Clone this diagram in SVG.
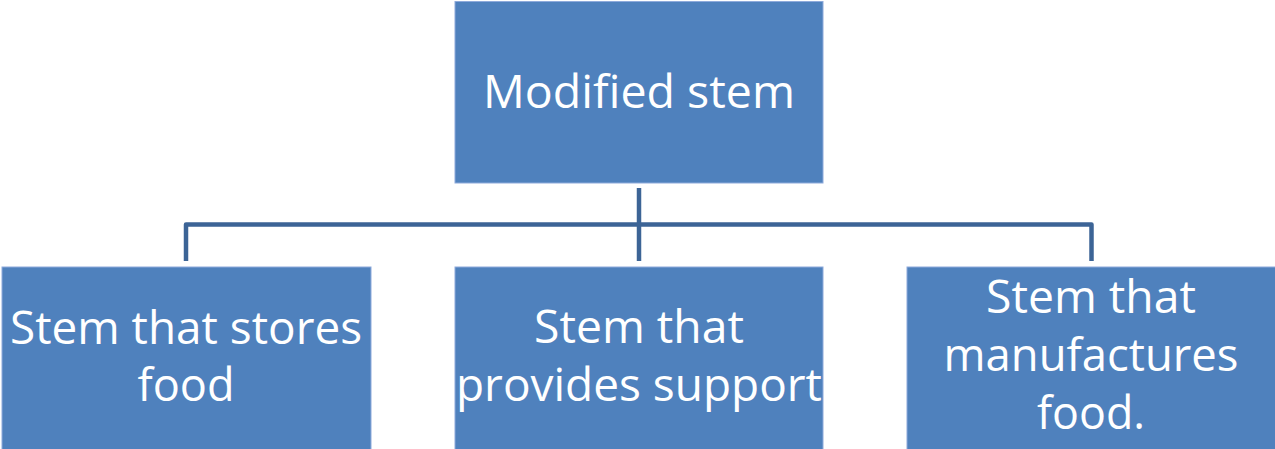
<svg xmlns="http://www.w3.org/2000/svg" width="1275" height="449" viewBox="0 0 1275 449">
<style>
.box{fill:#4F81BD;stroke:#8EAADB;stroke-width:1}
.t{font-family:"Open Sans","Liberation Sans",sans-serif;font-size:46px;fill:#FFFFFF;text-anchor:middle}
.c{fill:none;stroke:#3C6496;stroke-width:4.5;stroke-linejoin:round}
</style>
<rect width="1275" height="449" fill="#FFFFFF"/>
<g id="connectors">
<path class="c" d="M639 188 V261"/>
<path class="c" d="M186 261 V224.5 H1091.5 V261"/>
</g>
<g id="root">
<rect class="box" x="455" y="1.5" width="368" height="181.5"/>
<text class="t" x="639" y="108" textLength="312" lengthAdjust="spacingAndGlyphs">Modified stem</text>
</g>
<g id="n1">
<rect class="box" x="2" y="267" width="369" height="183"/>
<text class="t" x="186" y="344" textLength="352" lengthAdjust="spacingAndGlyphs">Stem that stores</text>
<text class="t" x="186" y="401" textLength="97" lengthAdjust="spacingAndGlyphs">food</text>
</g>
<g id="n2">
<rect class="box" x="455" y="267" width="368" height="183"/>
<text class="t" x="639" y="343" textLength="210" lengthAdjust="spacingAndGlyphs">Stem that</text>
<text class="t" x="639" y="401" textLength="366" lengthAdjust="spacingAndGlyphs">provides support</text>
</g>
<g id="n3">
<rect class="box" x="907" y="267" width="369" height="183"/>
<text class="t" x="1091" y="313" textLength="210" lengthAdjust="spacingAndGlyphs">Stem that</text>
<text class="t" x="1091" y="371" textLength="295" lengthAdjust="spacingAndGlyphs">manufactures</text>
<text class="t" x="1091" y="429" textLength="108" lengthAdjust="spacingAndGlyphs">food.</text>
</g>
</svg>
